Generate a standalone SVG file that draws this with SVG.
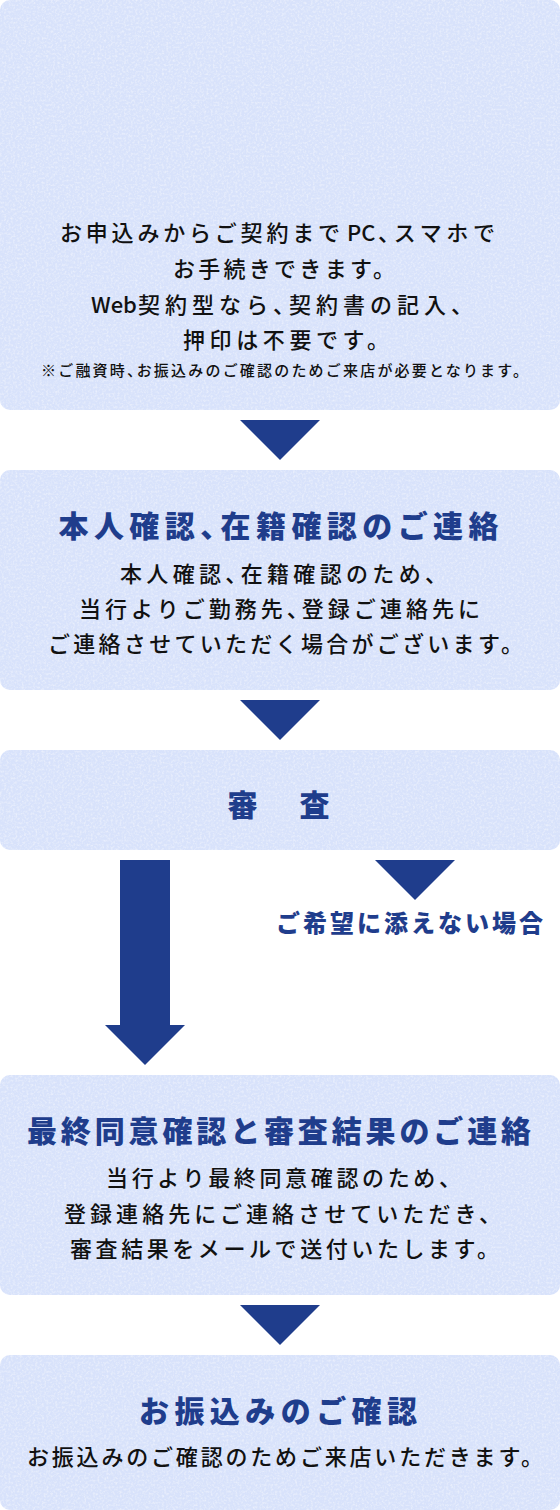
<svg xmlns="http://www.w3.org/2000/svg" width="560" height="1510" viewBox="0 0 560 1510">
<defs>
<filter id="paper" x="0" y="0" width="100%" height="100%">
<feTurbulence type="fractalNoise" baseFrequency="0.45" numOctaves="3" seed="7" result="n"/>
<feColorMatrix in="n" type="matrix" values="0 0 0 0 1  0 0 0 0 1  0 0 0 0 1  0 0 0 -0.9 0.52" result="w"/>
<feComposite in="w" in2="SourceGraphic" operator="in" result="wc"/>
<feMerge><feMergeNode in="SourceGraphic"/><feMergeNode in="wc"/></feMerge>
</filter>
<style>
.box{fill:#d8e2fb;}
.arrow{fill:#1f3d8c;}
.title{font-family:"Noto Sans CJK JP","Noto Sans",sans-serif;font-weight:900;font-size:30px;fill:#1f3d8c;text-anchor:middle;dominant-baseline:central;}
.body{font-family:"Noto Sans CJK JP","Noto Sans",sans-serif;font-weight:500;font-size:22px;fill:#111;text-anchor:middle;dominant-baseline:central;}
.note{font-family:"Noto Sans CJK JP","Noto Sans",sans-serif;font-weight:500;font-size:15px;fill:#111;text-anchor:middle;dominant-baseline:central;}
.label{font-family:"Noto Sans CJK JP","Noto Sans",sans-serif;font-weight:900;font-size:24px;fill:#1f3d8c;text-anchor:middle;dominant-baseline:central;}
.h{font-feature-settings:"halt";}
.st{text-anchor:start;}
</style>
</defs>
<rect width="560" height="1510" fill="#ffffff"/>
<g id="step1">
<rect class="box" x="0" y="0" width="560" height="410" rx="10" filter="url(#paper)"/>
<text class="body st" x="60" y="231" textLength="280" lengthAdjust="spacing">お申込みからご契約まで</text>
<text class="body st" x="347" y="231">PC</text>
<text class="body st" x="378" y="231" textLength="117" lengthAdjust="spacing"><tspan class="h">、</tspan>スマホで</text>
<text class="body" x="284" y="267" textLength="222" lengthAdjust="spacing">お手続きできます。</text>
<text class="body st" x="91" y="303">Web</text>
<text class="body st" x="138" y="303" textLength="335" lengthAdjust="spacing">契約型なら<tspan class="h">、</tspan>契約書の記入、</text>
<text class="body" x="286" y="338" textLength="206" lengthAdjust="spacing">押印は不要です。</text>
<text class="note" x="284.5" y="369" textLength="487" lengthAdjust="spacing">※ご融資時<tspan class="h">、</tspan>お振込みのご確認のためご来店が必要となります。</text>
</g>
<g id="step2">
<rect class="box" x="0" y="470" width="560" height="220" rx="10" filter="url(#paper)"/>
<text class="title" x="278.5" y="524" textLength="440" lengthAdjust="spacing">本人確認<tspan class="h">、</tspan>在籍確認のご連絡</text>
<text class="body" x="283.5" y="572" textLength="327" lengthAdjust="spacing">本人確認<tspan class="h">、</tspan>在籍確認のため、</text>
<text class="body" x="279.5" y="607" textLength="401" lengthAdjust="spacing">当行よりご勤務先<tspan class="h">、</tspan>登録ご連絡先に</text>
<text class="body" x="285.5" y="642" textLength="475" lengthAdjust="spacing">ご連絡させていただく場合がございます。</text>
</g>
<g id="step3">
<rect class="box" x="0" y="750" width="560" height="100" rx="10" filter="url(#paper)"/>
<text class="title" x="242.5" y="803">審</text>
<text class="title" x="314.5" y="803">査</text>
</g>
<g id="step4">
<rect class="box" x="0" y="1075" width="560" height="220" rx="10" filter="url(#paper)"/>
<text class="title" x="279" y="1129" textLength="504" lengthAdjust="spacing">最終同意確認と審査結果のご連絡</text>
<text class="body" x="283.5" y="1176" textLength="355" lengthAdjust="spacing">当行より最終同意確認のため、</text>
<text class="body" x="282.5" y="1212" textLength="437" lengthAdjust="spacing">登録連絡先にご連絡させていただき、</text>
<text class="body" x="284.5" y="1247" textLength="429" lengthAdjust="spacing">審査結果をメールで送付いたします。</text>
</g>
<g id="step5">
<rect class="box" x="0" y="1355" width="560" height="155" rx="10" filter="url(#paper)"/>
<text class="title" x="278" y="1409" textLength="278" lengthAdjust="spacing">お振込みのご確認</text>
<text class="body" x="285" y="1455" textLength="516" lengthAdjust="spacing">お振込みのご確認のためご来店いただきます。</text>
</g>
<g id="connectors">
<polygon class="arrow" points="240,420 320,420 280,460"/>
<polygon class="arrow" points="240,700 320,700 280,740"/>
<polygon class="arrow" points="120,860 170,860 170,1025 185,1025 145,1065 105,1025 120,1025"/>
<polygon class="arrow" points="375,860 455,860 415,900"/>
<text class="label" x="409.5" y="921" textLength="267" lengthAdjust="spacing">ご希望に添えない場合</text>
<polygon class="arrow" points="240,1305 320,1305 280,1345"/>
</g>
</svg>
